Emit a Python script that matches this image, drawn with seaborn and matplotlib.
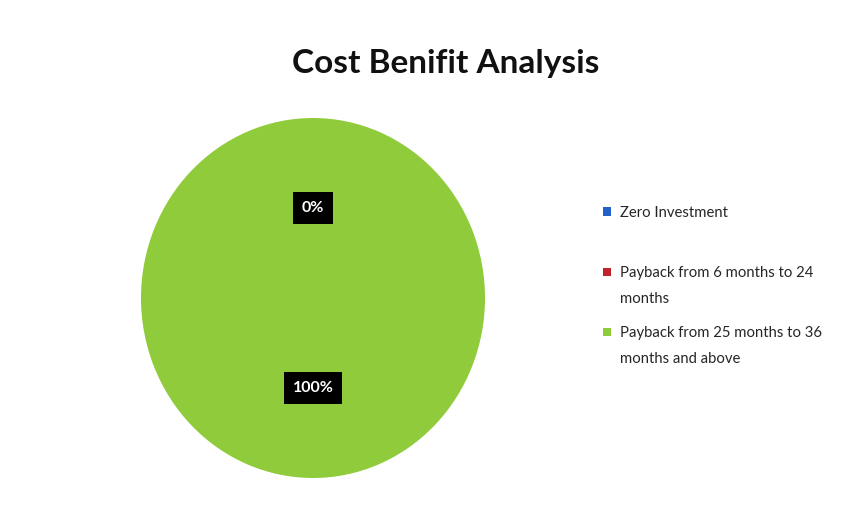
import matplotlib
matplotlib.use("Agg")
import matplotlib.pyplot as plt
import seaborn as sns

sns.set_theme(style="white")
plt.rcParams['font.family'] = ['Lato', 'DejaVu Sans']

categories = ["Zero Investment",
              "Payback from 6 months to 24\nmonths",
              "Payback from 25 months to 36\nmonths and above"]
values = [0, 0, 100]
colors = ["#2461C6", "#C4232B", "#8FCB3A"]
title = "Cost Benifit Analysis"

fig = plt.figure(figsize=(8.61, 5.15), dpi=100)
fig.patch.set_facecolor("white")

cx, cy = 313 / 861, (515 - 298) / 515
rw, rh = 172 / 861, 180 / 515
ax = fig.add_axes([cx - rw, cy - rh, 2 * rw, 2 * rh])

wedges, texts, autotexts = ax.pie(
    values, colors=colors, startangle=90, counterclock=False,
    autopct=lambda p: f"{p:.0f}%", pctdistance=0.5,
    wedgeprops=dict(linewidth=0),
)
for t in autotexts:
    t.set_color("white")
    t.set_fontweight("bold")
    t.set_fontsize(11.5)
    t.set_bbox(dict(boxstyle="square,pad=0.55", facecolor="black", edgecolor="none"))
# two zero slices share the same spot; show only one label
autotexts[1].set_visible(False)

ax.set_xlim(-1, 1)
ax.set_ylim(-1, 1)
ax.set_aspect("auto")
ax.axis("off")

fig.text(0.518, 0.876, title, ha="center", va="center",
         fontsize=24, fontweight="bold", color="#111111")

first_lines = [c.split("\n")[0] for c in categories]
rest_lines = [c.split("\n")[1] if "\n" in c else "" for c in categories]
fs = 10.7
leg = fig.legend(wedges, first_lines, loc="upper left",
                 bbox_to_anchor=(0.692, 0.615), frameon=False,
                 fontsize=fs, handlelength=0.5, handleheight=0.5,
                 handletextpad=0.6, labelspacing=3.12, borderpad=0)

fig.canvas.draw()
inv = fig.transFigure.inverted()
for t, extra in zip(leg.get_texts(), rest_lines):
    if not extra:
        continue
    bb = t.get_window_extent()
    x0, y0 = inv.transform((bb.x0, bb.y0 - 26 + (bb.y1 - bb.y0) / 2))
    fig.text(x0, y0, extra, ha="left", va="center", fontsize=fs,
             color=t.get_color())

fig.savefig("out.png", dpi=100, facecolor="white")
